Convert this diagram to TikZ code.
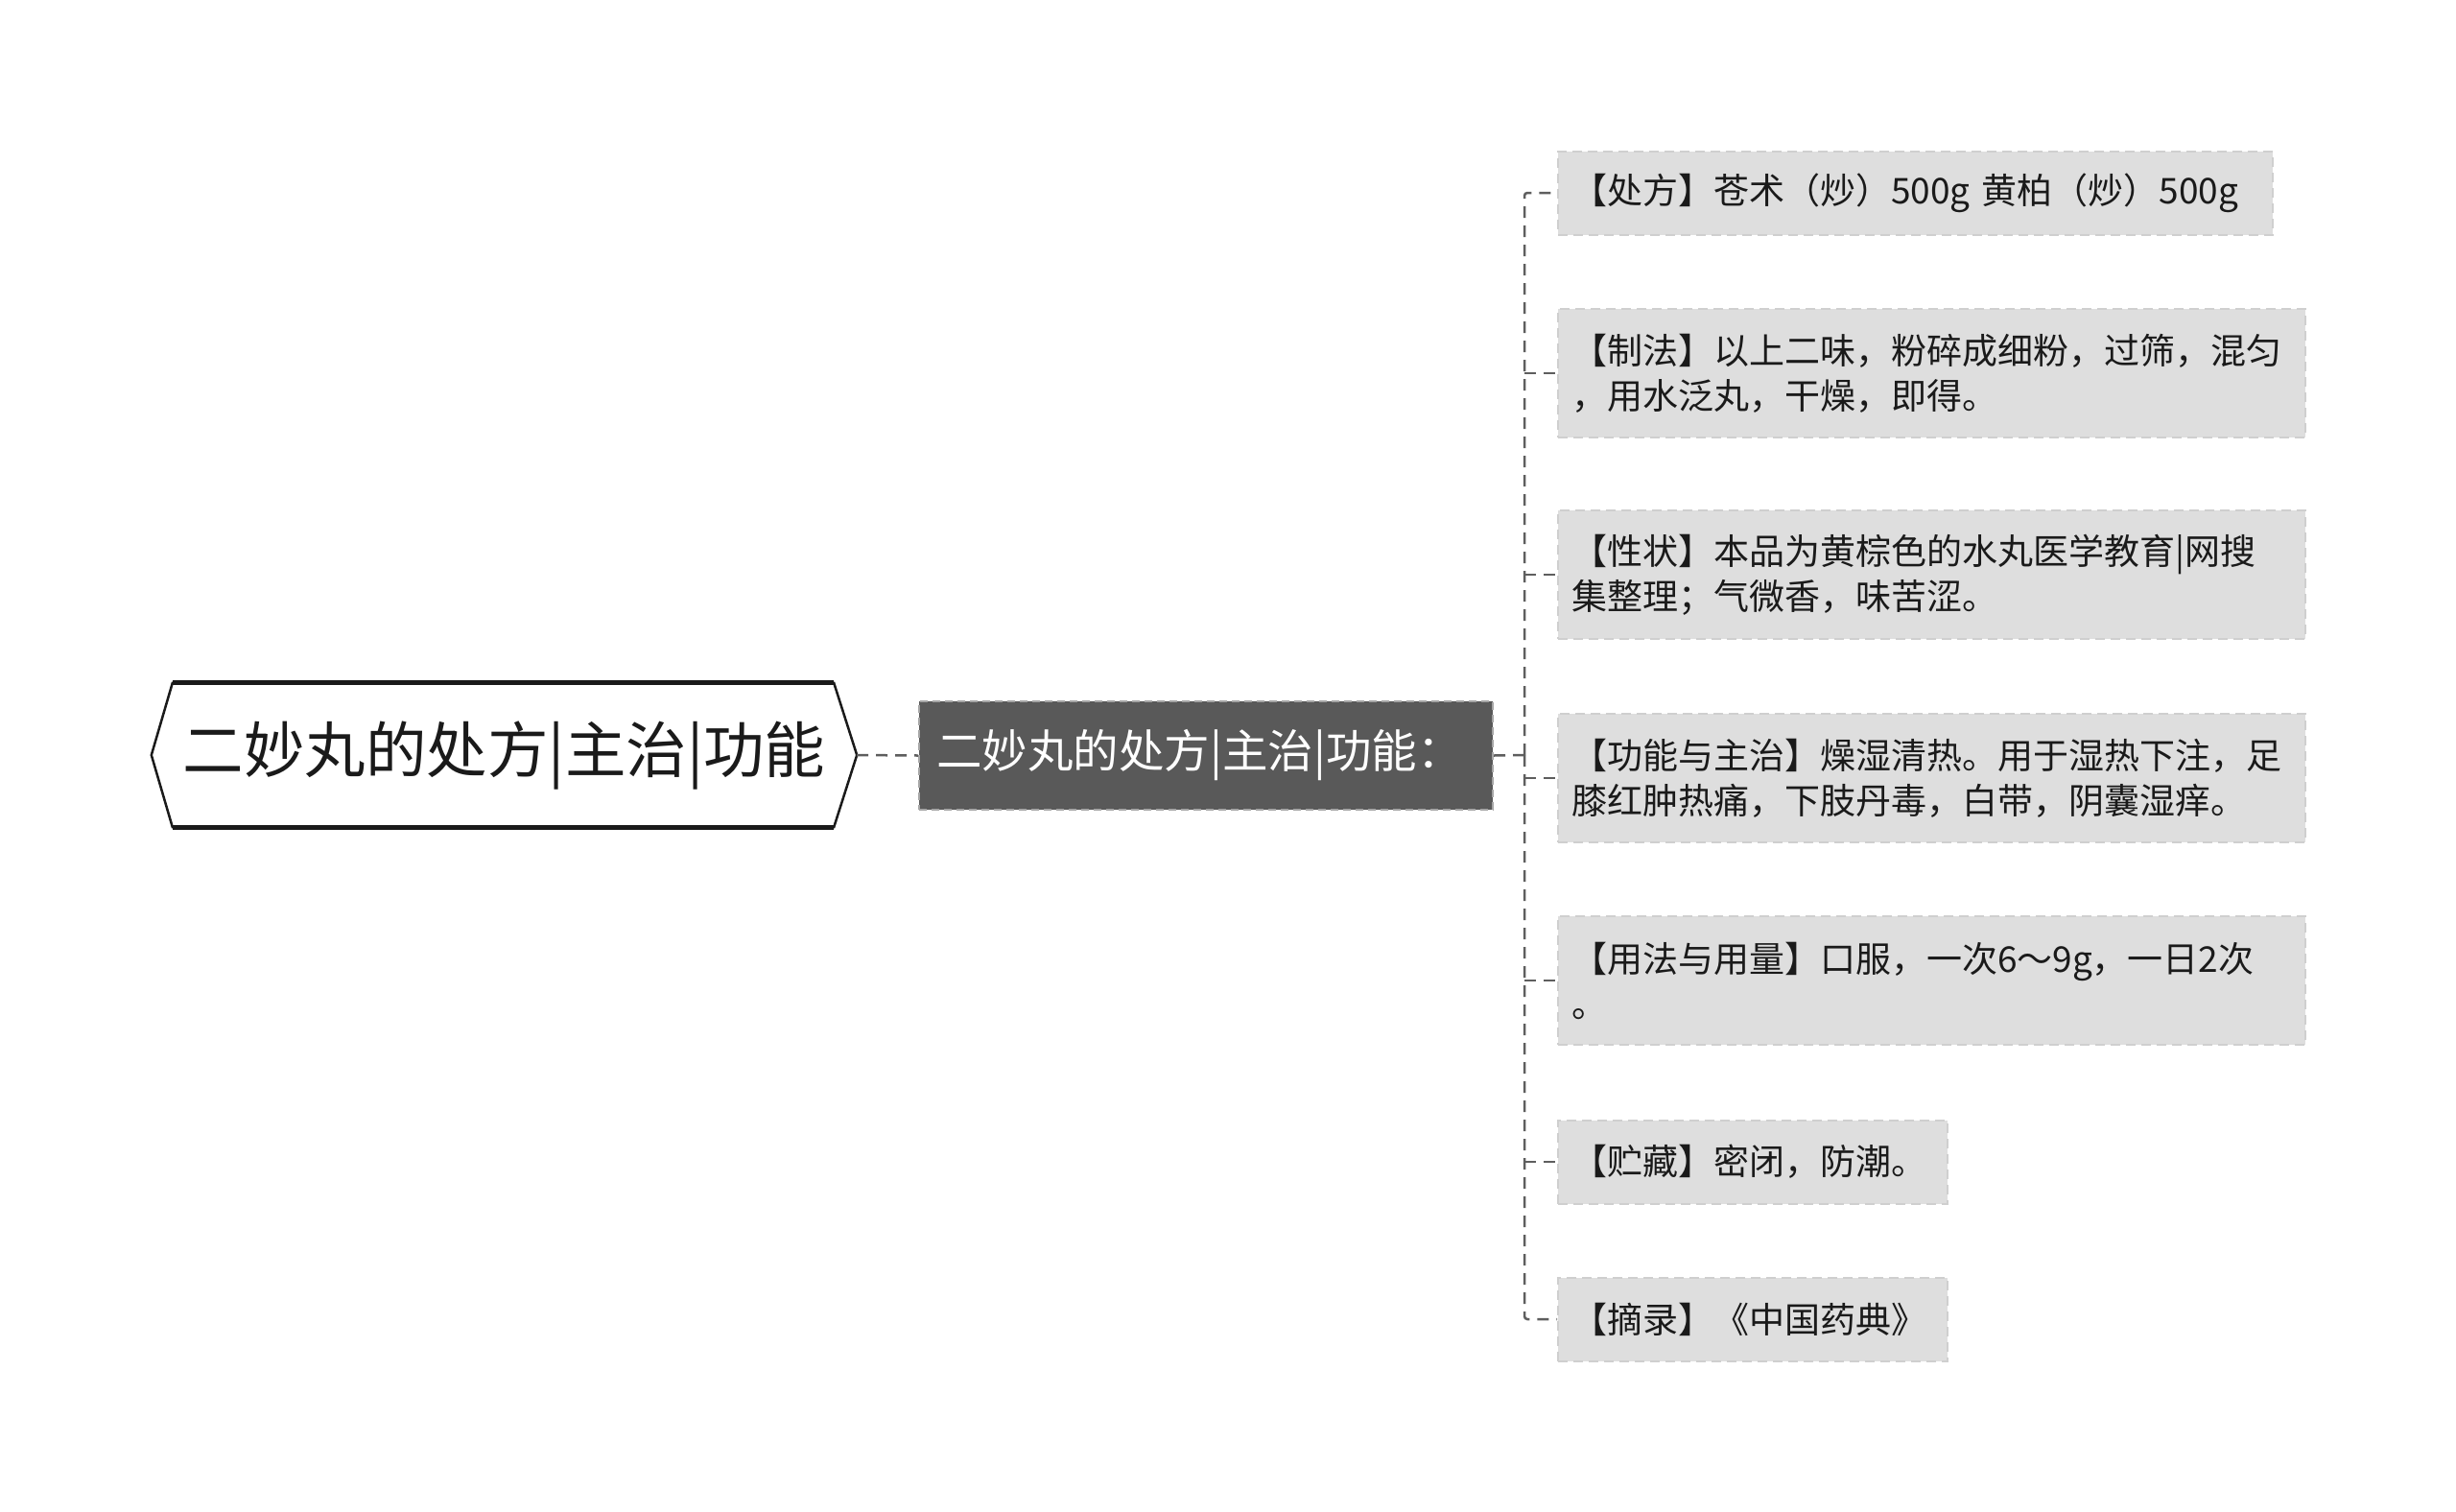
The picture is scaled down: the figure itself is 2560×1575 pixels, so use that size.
\documentclass[tikz,border=0pt]{standalone}
\usepackage{fontspec}
\newfontfamily\cjk{Noto Sans CJK SC}
\usetikzlibrary{calc}
\definecolor{leaffill}{HTML}{DEDEDE}
\definecolor{leafborder}{HTML}{CFCFCF}
\definecolor{midfill}{HTML}{595959}
\definecolor{midborder}{HTML}{A6A6A6}
\definecolor{linkc}{HTML}{5E5E5E}
\definecolor{txt}{HTML}{1A1A1A}
\begin{document}
\begin{tikzpicture}[x=1pt,y=-1pt,
  leaf/.style={anchor=west, fill=leaffill, draw=leafborder, dashed, line width=2pt,
    dash pattern=on 10pt off 6pt, inner xsep=14pt, inner ysep=0pt,
    font=\cjk\fontsize{37}{47}\selectfont, text=txt, align=left},
  leafone/.style={leaf, minimum height=87pt},
  leaftwo/.style={leaf, minimum height=134pt, text width=751pt},
  link/.style={draw=linkc, line width=2.5pt, dash pattern=on 12pt off 8pt},
  rootbox/.style={minimum width=735pt, minimum height=150pt, inner sep=0pt,
    font=\cjk\fontsize{63.5}{70}\selectfont, text=txt},
  midbox/.style={fill=midfill, draw=midborder, line width=2pt, dash pattern=on 8pt off 5pt,
    minimum width=598pt, minimum height=113pt, inner sep=0pt,
    font=\cjk\fontsize{47.5}{52}\selectfont, text=white}
]
\useasboundingbox (0,0) rectangle (2560,1575);

% root
\node[rootbox] (root) at (525.5,787) {二妙丸的处方|主治|功能};
\draw[line width=2.5pt, draw=txt, line join=miter]
  ($(root.north west)+(22,0)$) -- ($(root.north east)+(-24,0)$) -- (root.east)
  -- ($(root.south east)+(-24,0)$) -- ($(root.south west)+(22,0)$) -- (root.west) -- cycle;
\draw[line width=5pt, draw=txt]
  ($(root.north west)+(22,0)$) -- ($(root.north east)+(-24,0)$)
  ($(root.south west)+(22,0)$) -- ($(root.south east)+(-24,0)$);

% middle
\node[midbox] (mid) at (1257,787.5) {\hspace*{-13pt}二妙丸的处方|主治|功能：};

% leaves
\node[leafone, text width=717pt] (l1) at (1623,201) {【处方】苍术（炒）500g 黄柏（炒）500g};
\node[leaftwo] (l2) at (1623,389) {【制法】以上二味，粉碎成细粉，过筛，混匀\\，用水泛丸，干燥，即得。};
\node[leaftwo] (l3) at (1623,599) {【性状】本品为黄棕色的水丸医学教育|网搜\\集整理；气微香，味苦涩。};
\node[leaftwo] (l4) at (1623,811) {【功能与主治】燥湿清热。用于湿热下注，足\\膝红肿热痛，下肢丹毒，白带，阴囊湿痒。};
\node[leaftwo] (l5) at (1623,1022) {【用法与用量】口服，一次6～9g，一日2次\\。};
\node[leafone, text width=378pt] (l6) at (1623,1211) {【贮藏】密闭，防潮。};
\node[leafone, text width=378pt] (l7) at (1623,1375) {【摘录】《中国药典》};

% connectors
\coordinate (sp) at (1589,787);
\draw[link] (root.east) -- (mid.west);
\draw[link] (mid.east) -- (sp);
\draw[link, rounded corners=3pt] (sp) |- (l1.west);
\draw[link, rounded corners=3pt] (sp) |- (l7.west);
\foreach \n in {l2,l3,l4,l5,l6}{
  \draw[link] (sp |- \n.west) -- (\n.west);
}
\end{tikzpicture}
\end{document}
